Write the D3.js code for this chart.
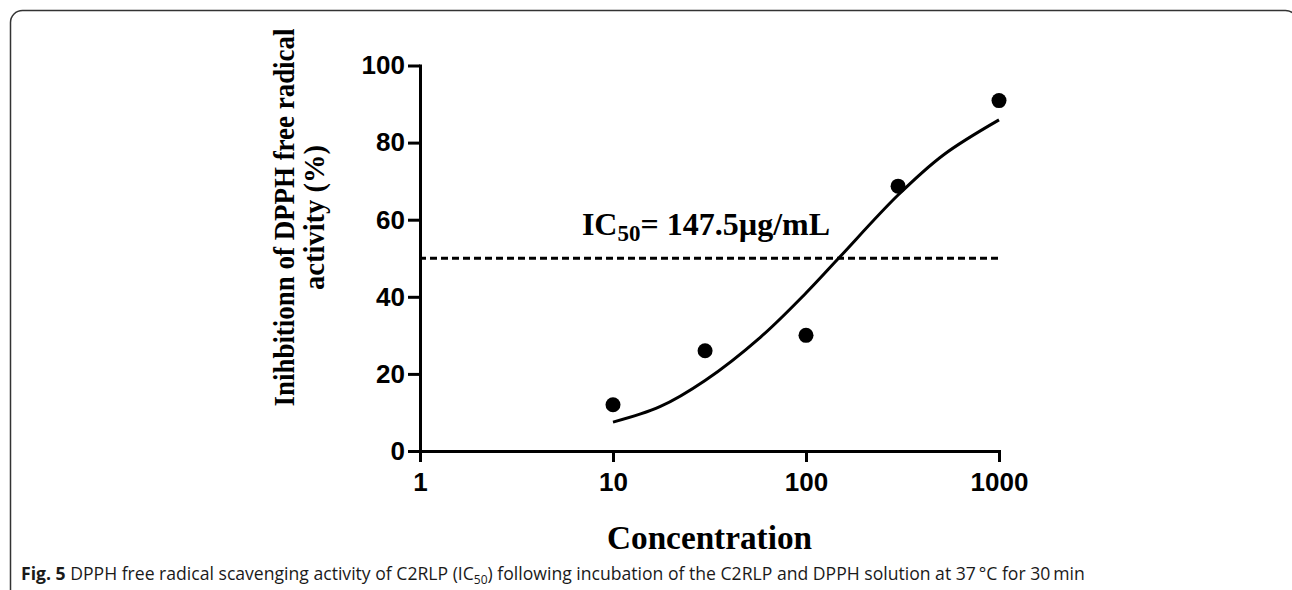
<!DOCTYPE html>
<html>
<head>
<meta charset="utf-8">
<script src="https://cdn.jsdelivr.net/npm/d3@7"></script>
<style>
  body { margin: 0; background: #fff; }
  .axis path, .axis line { stroke: #000; stroke-width: 3; }
  .axis path { stroke-linecap: square; }
  .axis text { font-family: "Liberation Sans", Arial, sans-serif; font-weight: bold; font-size: 26px; fill: #000; }
  .title { font-family: "Liberation Serif", "Times New Roman", serif; font-weight: bold; fill: #000; }
  .caption { font-family: "Open Sans", sans-serif; font-size: 17.6px; fill: #1a1a1a; }
</style>
</head>
<body>
<div id="chart"></div>
<script>
// measured points
const concentration = [10, 30, 100, 300, 1000];
const inhibition = [12, 26, 30, 68.7, 90.9];

// fitted curve
const fitX = [10, 17.5, 30, 58, 100, 147.5, 300, 515, 1000];
const fitY = [7.5, 11.5, 18.3, 29.5, 41, 50, 66.4, 76.8, 85.9];

const xTicks = [1, 10, 100, 1000];
const yTicks = [0, 20, 40, 60, 80, 100];
const ic50 = 147.5;
const halfLine = [[1, 50], [1000, 50]];

const width = 1292, height = 590;
const margin = { top: 65.5, right: 293, bottom: 139, left: 420 };
const innerW = width - margin.left - margin.right;
const innerH = height - margin.top - margin.bottom;

const svg = d3.select('#chart').append('svg')
  .attr('width', width)
  .attr('height', height);

// frame round the figure
svg.append('rect')
  .attr('x', 10.5).attr('y', 10.5)
  .attr('width', 1287).attr('height', 620)
  .attr('rx', 12)
  .attr('fill', 'none')
  .attr('stroke', '#333')
  .attr('stroke-width', 1.5);

const chart = svg.append('g')
  .attr('transform', `translate(${margin.left}, ${margin.top})`);

const x = d3.scaleLog().domain([1, 1000]).range([0, innerW]);
const y = d3.scaleLinear().domain([0, 100]).range([innerH, 0]);

const xAxis = d3.axisBottom(x)
  .tickValues(xTicks)
  .tickFormat(d3.format('d'))
  .tickSize(11)
  .tickSizeOuter(0)
  .tickPadding(11);

const yAxis = d3.axisLeft(y)
  .tickValues(yTicks)
  .tickSize(12)
  .tickSizeOuter(0)
  .tickPadding(3);

chart.append('g')
  .attr('class', 'axis x-axis')
  .attr('transform', `translate(0, ${innerH})`)
  .call(xAxis);

chart.append('g')
  .attr('class', 'axis y-axis')
  .call(yAxis);

// 50% line
chart.append('path')
  .datum(halfLine)
  .attr('d', d3.line().x(d => x(d[0])).y(d => y(d[1])))
  .attr('fill', 'none')
  .attr('stroke', '#000')
  .attr('stroke-width', 3)
  .attr('stroke-dasharray', '7,4')
  .attr('stroke-dashoffset', -10);

// fit curve
const fitData = fitX.map((d, i) => [d, fitY[i]]);
chart.append('path')
  .datum(fitData)
  .attr('d', d3.line().x(d => x(d[0])).y(d => y(d[1])).curve(d3.curveCatmullRom))
  .attr('fill', 'none')
  .attr('stroke', '#000')
  .attr('stroke-width', 3);

// dots
chart.selectAll('circle')
  .data(concentration.map((d, i) => [d, inhibition[i]]))
  .join('circle')
  .attr('cx', d => x(d[0]))
  .attr('cy', d => y(d[1]))
  .attr('r', 7.5)
  .attr('fill', '#000');

// IC50 label
const icLabel = chart.append('text')
  .attr('class', 'title')
  .attr('x', x(6.9))
  .attr('y', y(56))
  .style('font-size', '32px');
icLabel.append('tspan').text('IC');
icLabel.append('tspan').attr('dy', 6).style('font-size', '23px').text('50');
icLabel.append('tspan').attr('dy', -6).text(`= ${ic50}\u00b5g/mL`);

// axis titles
chart.append('text')
  .attr('class', 'title')
  .attr('text-anchor', 'middle')
  .attr('x', innerW / 2)
  .attr('y', innerH + 98)
  .attr('textLength', 205)
  .attr('lengthAdjust', 'spacingAndGlyphs')
  .style('font-size', '33px')
  .text('Concentration');

const yTitle = chart.append('g')
  .attr('transform', `translate(-126, ${217.5 - margin.top}) rotate(-90)`);
yTitle.append('text')
  .attr('class', 'title')
  .attr('text-anchor', 'middle')
  .attr('x', 0).attr('y', 0)
  .attr('textLength', 378)
  .attr('lengthAdjust', 'spacingAndGlyphs')
  .style('font-size', '29px')
  .text('Inihbitionn of DPPH free radical');
yTitle.append('text')
  .attr('class', 'title')
  .attr('text-anchor', 'middle')
  .attr('x', 0).attr('y', 30)
  .attr('textLength', 145)
  .attr('lengthAdjust', 'spacingAndGlyphs')
  .style('font-size', '29px')
  .text('activity (%)');

// caption
const cap = svg.append('text')
  .attr('class', 'caption')
  .attr('x', 21)
  .attr('y', 580);
cap.append('tspan').style('font-weight', 'bold').text('Fig. 5');
cap.append('tspan').text(' DPPH free radical scavenging activity of C2RLP (IC');
cap.append('tspan').attr('dy', 4).style('font-size', '12px').text('50');
cap.append('tspan').attr('dy', -4).text(') following incubation of the C2RLP and DPPH solution at 37\u2009\u00b0C for 30\u2009min');
</script>
</body>
</html>
